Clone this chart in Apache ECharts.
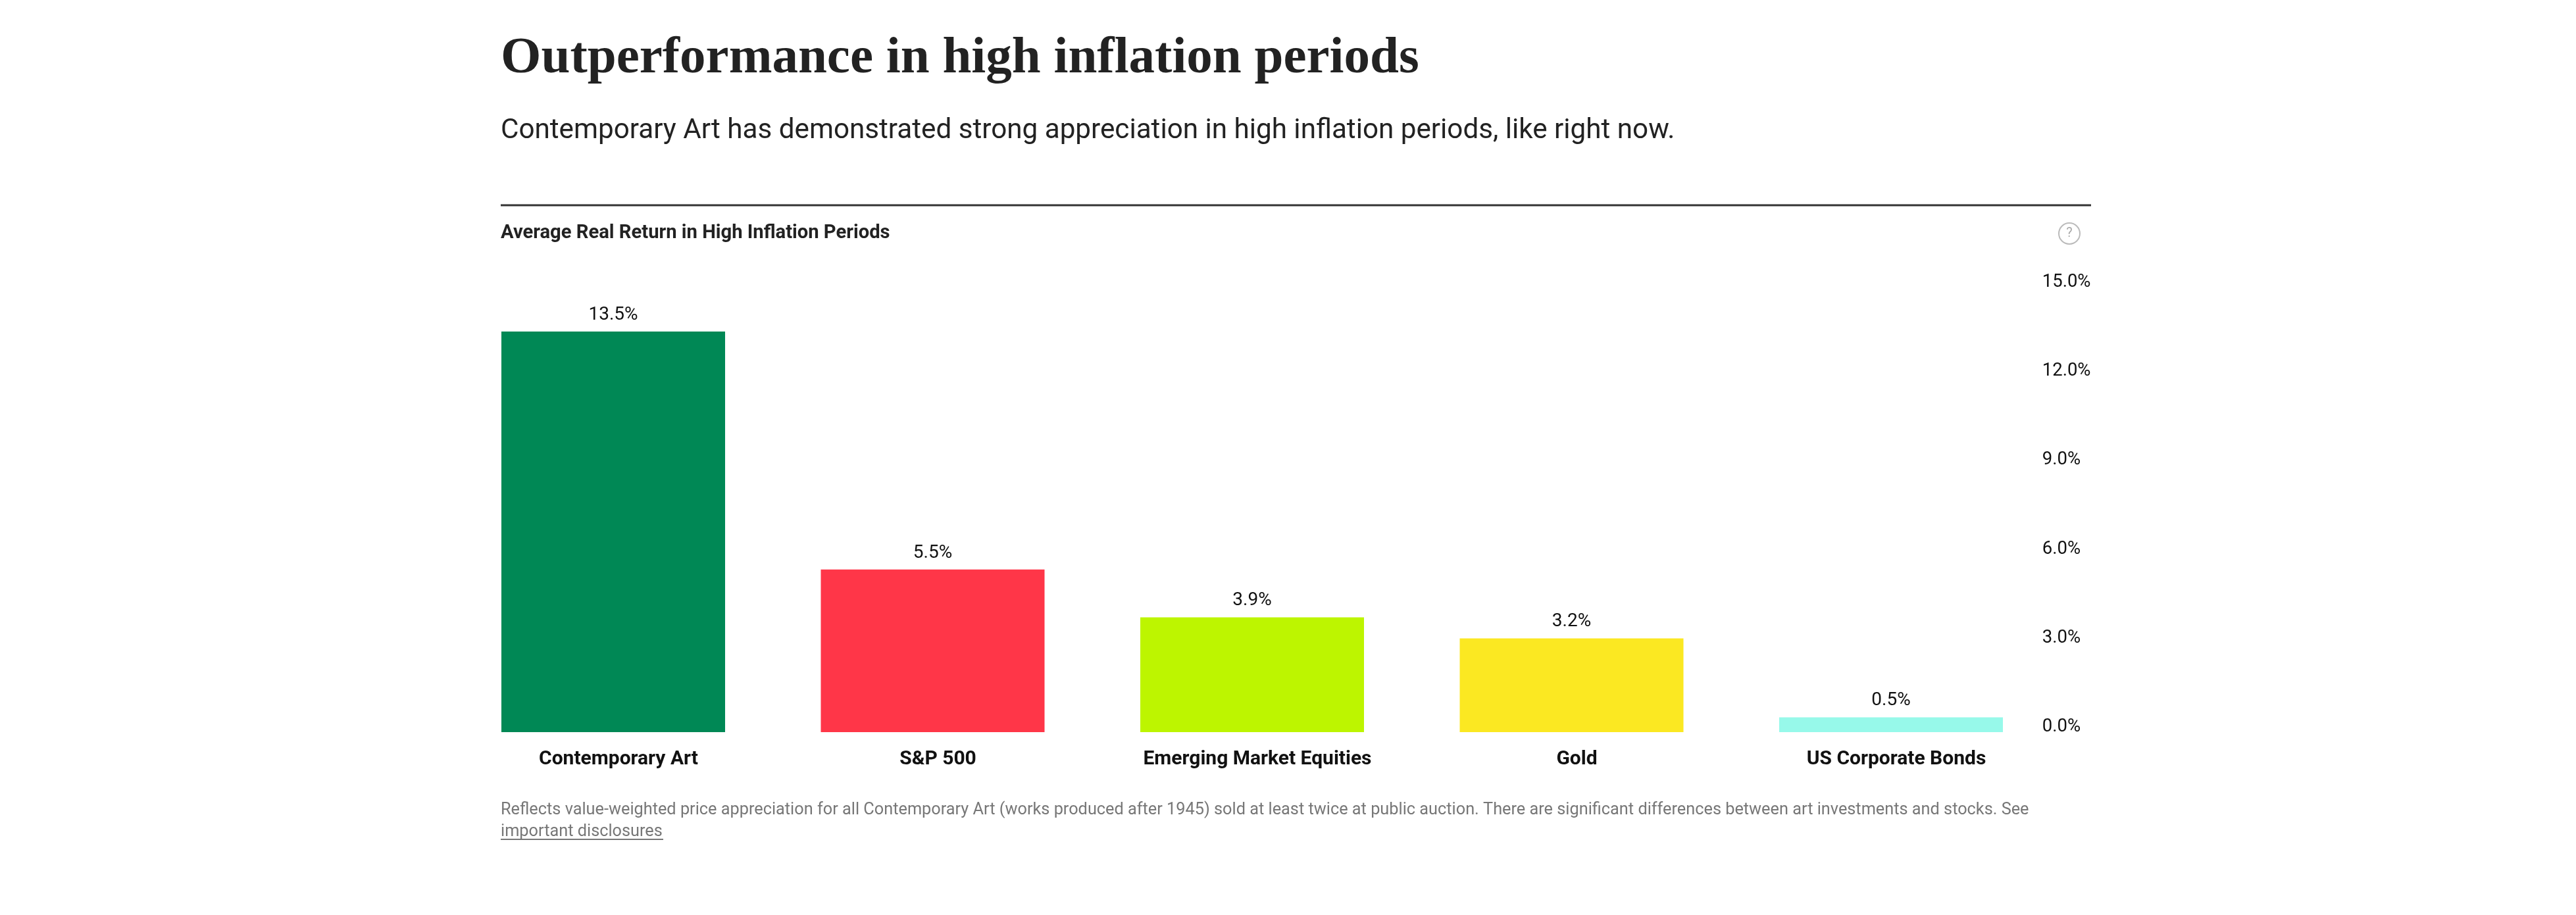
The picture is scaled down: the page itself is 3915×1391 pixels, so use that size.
<!DOCTYPE html>
<html><head><meta charset="utf-8">
<style>html,body{margin:0;padding:0;background:#fff}#c{width:3915px;height:1391px}</style>
<script src="https://cdn.jsdelivr.net/npm/echarts@6/dist/echarts.min.js"></script>
</head><body><div id="c"></div>
<script>
const categories = ['Contemporary Art','S&P 500','Emerging Market Equities','Gold','US Corporate Bonds'];
const values = [13.5,5.5,3.9,3.2,0.5];
const barShown = [13.5,5.48,3.87,3.16,0.5];
const colors = ['#008855','#FF3648','#BDF500','#FBE822','#97F9EA'];
const yTicks = [0,3,6,9,12,15];
const titleText = 'Outperformance in high inflation periods';
const subtitleText = 'Contemporary Art has demonstrated strong appreciation in high inflation periods, like right now.';
const chartTitle = 'Average Real Return in High Inflation Periods';
const note1 = 'Reflects value-weighted price appreciation for all Contemporary Art (works produced after 1945) sold at least twice at public auction. There are significant differences between art investments and stocks. See';
const note2 = 'important disclosures';

const SANS = 'Roboto, "Noto Sans", sans-serif';
const chart = echarts.init(document.getElementById('c'), null, {renderer:'canvas'});
chart.setOption({
  backgroundColor:'#fff',
  animation:false,
  title:[
    {text:titleText,left:761,top:50,padding:0,textStyle:{fontFamily:'"Liberation Serif", serif',fontWeight:'bold',fontSize:79,color:'#222'}},
    {text:subtitleText,left:761,top:178,padding:0,textStyle:{fontFamily:SANS,fontWeight:'normal',fontSize:42.2,color:'#222'}},
    {text:chartTitle,left:761,top:340,padding:0,textStyle:{fontFamily:SANS,fontWeight:'bold',fontSize:29.2,color:'#222'}},
    {text:note1,left:761,top:1219,padding:0,textStyle:{fontFamily:SANS,fontWeight:'normal',fontSize:25.3,color:'#777'}},
    {text:note2,left:761,top:1252,padding:0,textStyle:{fontFamily:SANS,fontWeight:'normal',fontSize:25.3,color:'#777'}}
  ],
  graphic:[
    {type:'line',shape:{x1:761,y1:312,x2:3178,y2:312},style:{stroke:'#333',lineWidth:3}},
    {type:'line',shape:{x1:761,y1:1276,x2:1008,y2:1276},style:{stroke:'#777',lineWidth:2}},
    {type:'circle',shape:{cx:3145,cy:355,r:16},style:{fill:'none',stroke:'#bbb',lineWidth:2}},
    {type:'text',style:{x:3145,y:355,text:'?',align:'center',verticalAlign:'middle',font:'20px Roboto',fill:'#aaa'}}
  ],
  grid:{left:689.25,width:2427.5,top:436.3,height:676.7,containLabel:false},
  xAxis:{type:'category',data:categories,axisLine:{show:false},axisTick:{show:false},
    axisLabel:{interval:0,margin:26,padding:[0,0,0,16],fontFamily:SANS,fontWeight:'bold',fontSize:30,color:'#111'}},
  yAxis:{type:'value',position:'right',min:0,max:15,interval:3,offset:-13,
    axisLine:{show:false},axisTick:{show:false},splitLine:{show:false},
    axisLabel:{margin:0,align:'left',verticalAlign:'bottom',lineHeight:15,fontFamily:SANS,fontSize:27.5,color:'#111',formatter:v=>v.toFixed(1)+'%'}},
  series:[{type:'bar',barWidth:340,
    data:barShown.map((v,i)=>({value:v,itemStyle:{color:colors[i]},
      label:{show:true,position:'top',distance:11,formatter:values[i].toFixed(1)+'%',fontFamily:SANS,fontSize:28,color:'#111'}}))}]
});
</script></body></html>
